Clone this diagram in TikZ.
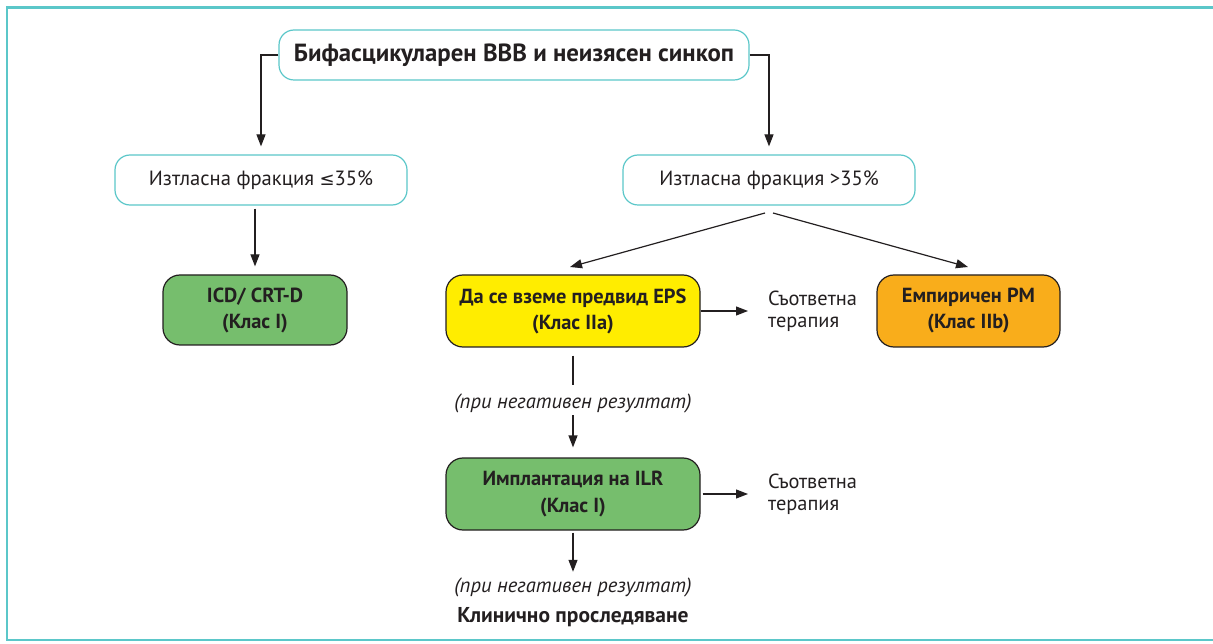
\documentclass[tikz,border=0pt]{standalone}
\usepackage{fontspec}
\setmainfont{PT Sans}
\newfontfamily\symfont{DejaVu Sans}
\usetikzlibrary{arrows.meta,calc}
\definecolor{frameteal}{HTML}{5BC7C9}
\definecolor{ink}{HTML}{231F20}
\definecolor{boxgreen}{HTML}{76BE6D}
\definecolor{boxyellow}{HTML}{FFED00}
\definecolor{boxorange}{HTML}{F9AD1B}
\tikzset{
  tealbox/.style={draw=frameteal, line width=1.2pt, rounded corners=15pt, fill=white, text=ink, align=center, inner sep=0pt},
  colbox/.style={draw=ink, line width=1.2pt, rounded corners=17pt, text=ink, align=center, inner sep=0pt, font=\fontsize{20.4}{26}\selectfont\bfseries},
  conn/.style={draw=ink, line width=1.2pt},
  arr/.style={conn, -{Triangle[length=12pt,width=9pt]}},
  plain/.style={text=ink, inner sep=0pt, align=left},
  neglabel/.style={text=ink, inner sep=0pt, text height=14pt, text depth=4pt, font=\fontsize{20.6}{24}\selectfont\itshape},
}
\begin{document}
\begin{tikzpicture}[x=1pt,y=-1pt]
\useasboundingbox (0,0) rectangle (1213,644);
\draw[frameteal, line width=2.6pt] (1213,7.5) -- (7,7.5) -- (7,640) -- (1213,640);

\node[tealbox, minimum width=470pt, minimum height=50pt, font=\fontsize{24.8}{28}\selectfont\bfseries] (title) at (514,55) {Бифасцикуларен ВВВ и неизясен синкоп};
\node[tealbox, minimum width=292pt, minimum height=50pt, font=\fontsize{20.6}{24}\selectfont] (lowef) at (261,180) {Изтласна фракция {\symfont\fontsize{18}{20}\selectfont ≤}35\%};
\node[tealbox, minimum width=292pt, minimum height=50pt, font=\fontsize{20.6}{24}\selectfont] (highef) at (769,180) {Изтласна фракция >35\%};

\node[colbox, fill=boxgreen, minimum width=184pt, minimum height=70pt] (icd) at (255,310) {ICD/ CRT-D\\(Клас I)};
\node[colbox, fill=boxyellow, minimum width=254pt, minimum height=72pt] (eps) at (573,311) {Да се вземе предвид EPS\\(Клас IIa)};
\node[colbox, fill=boxorange, minimum width=183pt, minimum height=72pt] (pm) at (968.5,311) {Емпиричен PM\\(Клас IIb)};
\node[colbox, fill=boxgreen, minimum width=254pt, minimum height=72pt] (ilr) at (573,494) {Имплантация на ILR\\(Клас I)};

\node[plain, anchor=west, font=\fontsize{20.4}{22}\selectfont] (ther1) at (768,311) {Съответна\\терапия};
\node[plain, anchor=west, font=\fontsize{20.4}{22}\selectfont] (ther2) at (768,494) {Съответна\\терапия};

\node[neglabel] (neg1) at (573,403) {(при негативен резултат)};
\node[neglabel] (neg2) at (573,587) {(при негативен резултат)};
\node[plain, font=\fontsize{21.5}{24}\selectfont\bfseries] (follow) at (573,617) {Клинично проследяване};

\coordinate (forkL) at (765,213);
\coordinate (forkR) at (773,213);
\coordinate (epsin) at (570,267);
\coordinate (pmin) at (968,267);

\draw[arr, shorten >=8pt] (title.west) -| (lowef.north);
\draw[arr, shorten >=8pt] (title.east) -| (highef.north);
\draw[arr, shorten <=3pt, shorten >=8pt] (lowef.south -| icd.north) -- (icd.north);
\draw[arr] (forkL) -- (epsin);
\draw[arr] (forkR) -- (pmin);
\draw[arr, shorten >=20pt] (eps.east) -- (eps.east -| ther1.west);
\draw[arr, shorten <=2pt, shorten >=20pt] (ilr.east) -- (ilr.east -| ther2.west);
\draw[conn, shorten <=8pt, shorten >=9pt] (eps.south) -- (neg1.north);
\draw[arr, shorten <=3pt, shorten >=10pt] (neg1.south) -- (ilr.north);
\draw[arr, shorten <=2pt, shorten >=6pt] (ilr.south) -- (neg2.north);
\end{tikzpicture}
\end{document}
